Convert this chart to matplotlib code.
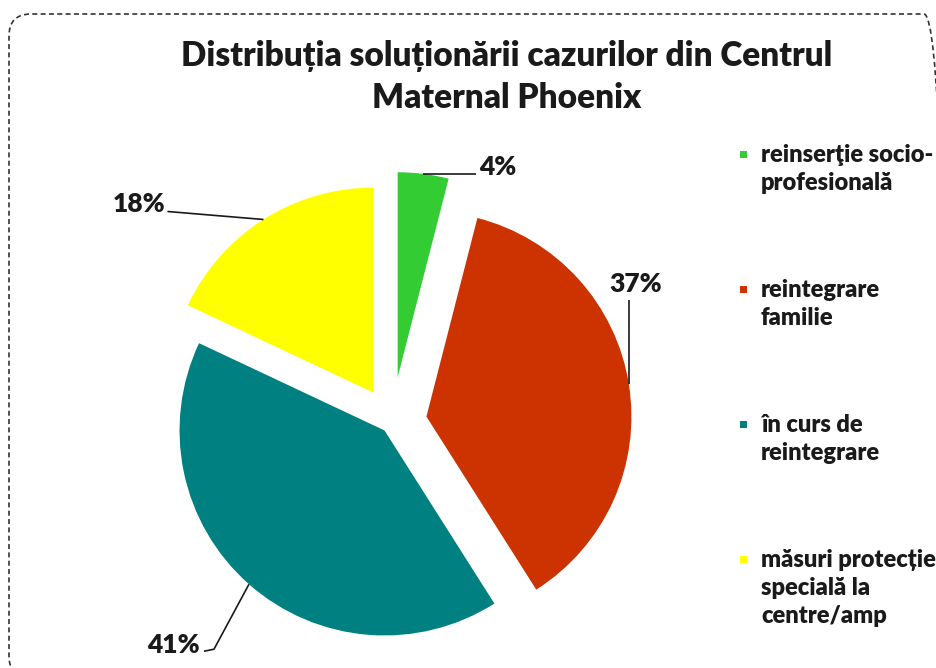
import numpy as np
import matplotlib.pyplot as plt
from matplotlib.patches import FancyBboxPatch, Rectangle
from matplotlib.transforms import IdentityTransform

plt.rcParams['font.family'] = ['Lato', 'DejaVu Sans']

# data
categories = ['reinserţie socio-\nprofesională', 'reintegrare\nfamilie',
              'în curs de\nreintegrare', 'măsuri protecție\nspecială la\ncentre/amp']
values = [4, 37, 41, 18]
colors = ['#33CC33', '#CC3300', '#008080', '#FFFF00']
explode = [0.22, 0.17, 0.055, 0.17]
title = 'Distribuția soluționării cazurilor din Centrul\nMaternal Phoenix'

W, H = 936, 668
S = 205.0          # pixels per unit of pie radius
cx, cy = 392, 422  # pie centre in image pixels (y from top)
WEIGHT = 'heavy'

fig = plt.figure(figsize=(W / 100, H / 100), dpi=100)
fig.patch.set_facecolor('white')

ax = fig.add_axes([0, 0, 1, 1])
wedges, _ = ax.pie(values, colors=colors, explode=explode, startangle=90,
                   counterclock=False, radius=1,
                   wedgeprops=dict(linewidth=0))
ax.set_xlim(-cx / S, (W - cx) / S)
ax.set_ylim(-(H - cy) / S, cy / S)
ax.set_aspect('auto')
ax.axis('off')

# leader lines (pixel offsets from the anchor on the arc, y up) and label spot
leaders = [
    ([(53, 0)], (56, 7), 'left'),
    ([(0, 84)], (7, 100), 'center'),
    ([(-35, -65), (-45, -67)], (-49, -61), 'right'),
    ([(-96, 8)], (-98, 15), 'right'),
]
for w, v, (pts, tpos, ha) in zip(wedges, values, leaders):
    mid = np.deg2rad((w.theta1 + w.theta2) / 2)
    ax0 = w.center[0] + w.r * np.cos(mid)
    ay0 = w.center[1] + w.r * np.sin(mid)
    xs = [ax0] + [ax0 + p[0] / S for p in pts]
    ys = [ay0] + [ay0 + p[1] / S for p in pts]
    ax.plot(xs, ys, color='#1a1a1a', lw=1.2, solid_capstyle='butt')
    ax.text(ax0 + tpos[0] / S, ay0 + tpos[1] / S, f'{v}%', ha=ha, va='center',
            fontsize=19, fontweight=WEIGHT, color='#1a1a1a')

# title
fig.text(507 / W, 1 - 77 / H, title, ha='center', va='center', fontsize=24,
         fontweight=WEIGHT, color='#1a1a1a', linespacing=1.35)

# legend
for i, (lab, col) in enumerate(zip(categories, colors)):
    ytop = 144 + 135 * i
    fig.add_artist(Rectangle((740 / W, 1 - (ytop + 14) / H), 7 / W, 7 / H,
                             transform=fig.transFigure, facecolor=col,
                             edgecolor='none'))
    fig.text(761 / W, 1 - ytop / H, lab, ha='left', va='top', fontsize=17,
             fontweight=WEIGHT, color='#1a1a1a', linespacing=1.32)

# dashed rounded border
border = FancyBboxPatch((9, -10), 937, 664, boxstyle='round,pad=0,rounding_size=22',
                        transform=IdentityTransform(), facecolor='none',
                        edgecolor='#333333', lw=1.2, linestyle=(0, (3, 2)))
fig.add_artist(border)

fig.savefig('out.png', dpi=100)
